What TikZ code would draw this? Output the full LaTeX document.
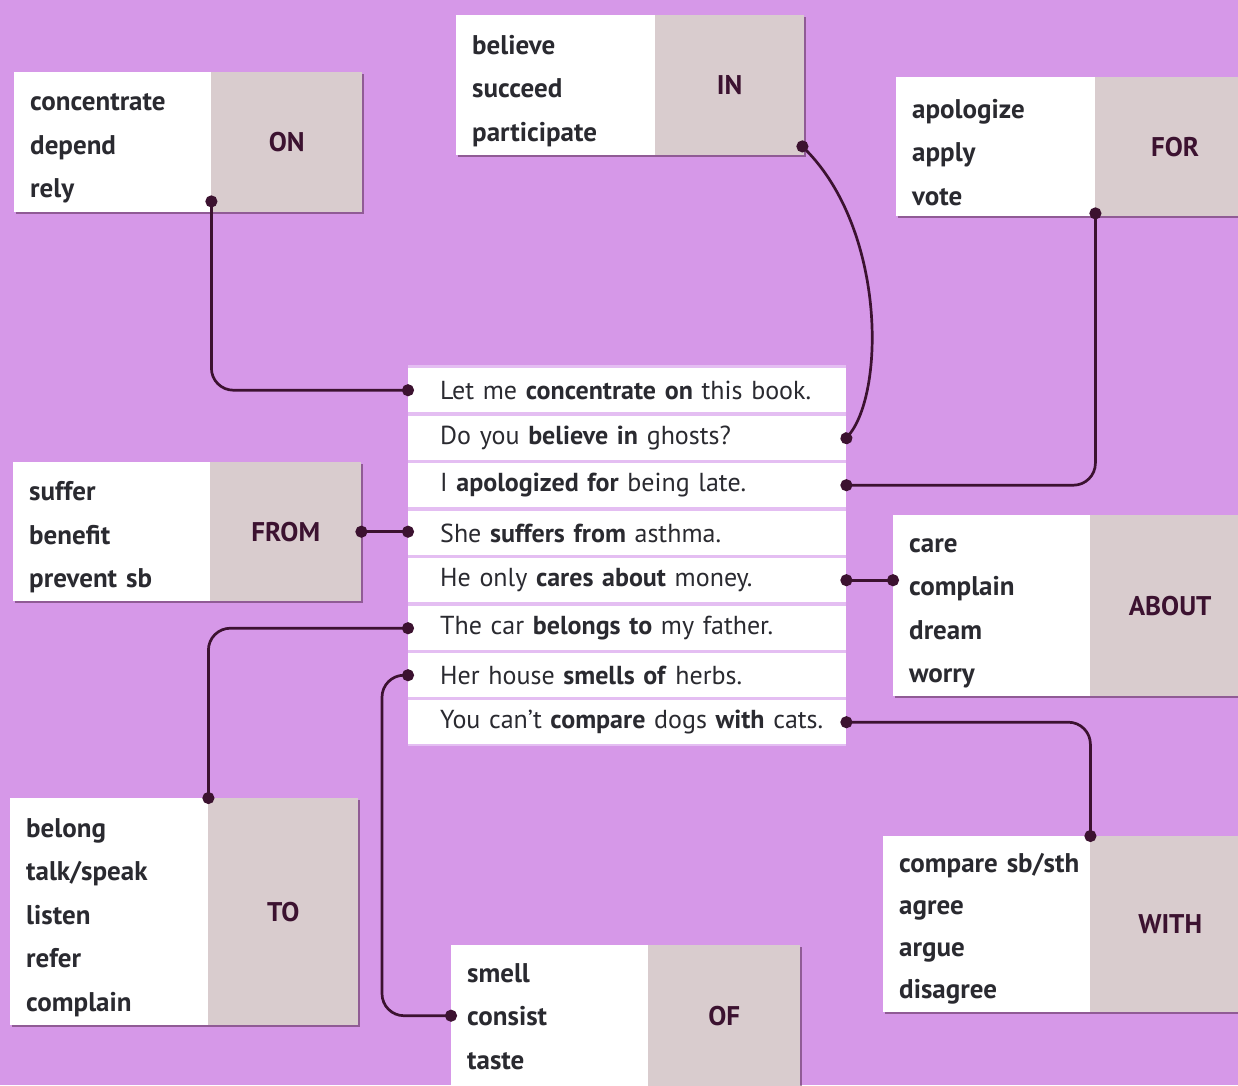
\documentclass[tikz,border=0pt]{standalone}
\usepackage{fontspec}
\setmainfont{PT Sans}
\usetikzlibrary{shadows,calc,arrows.meta}
\definecolor{bg}{RGB}{214,152,232}
\definecolor{tag}{RGB}{217,204,206}
\definecolor{ink}{RGB}{60,18,48}
\definecolor{txt}{RGB}{42,42,48}
\definecolor{sep}{RGB}{228,190,242}
\tikzset{
  x=1pt,y=-1pt,
  shad/.style={drop shadow={shadow xshift=2pt,shadow yshift=-2pt,opacity=0.45,fill=ink}},
  wpart/.style={shad,fill=white,anchor=north west,inner xsep=16pt,inner ysep=0pt,
    align=left,text=txt,font=\fontsize{27}{43.5}\selectfont\bfseries},
  gpart/.style={shad,fill=tag,anchor=north west,inner sep=0pt,text=ink,
    font=\fontsize{27}{32}\selectfont\bfseries},
  sent/.style={fill=white,anchor=north west,inner xsep=0pt,inner ysep=0pt,
    minimum width=438,minimum height=44,text width=438,align=left,text=txt,
    font=\fontsize{26}{31}\selectfont},
  conn/.style={draw=ink,line width=2.7pt,rounded corners=22pt,
    {Circle[length=12pt]}-{Circle[length=12pt]},shorten <=-6pt,shorten >=-6pt},
}
\newcommand{\bw}[1]{\textbf{#1}}
\newcommand{\tp}[1][30]{\rule{0pt}{#1pt}}
\begin{document}
\begin{tikzpicture}
\fill[bg] (0,0) rectangle (1238,1085);
\useasboundingbox (0,0) rectangle (1238,1085);
\clip (0,0) rectangle (1238,1085);

% ON
\node[wpart,minimum width=197,minimum height=140,text width=165] (onw) at (14,72) {\tp[30]concentrate\\depend\\rely};
\node[gpart,minimum width=151,minimum height=140] (ong) at (211,72) {ON};
% IN
\node[wpart,minimum width=199,minimum height=140,text width=167] (inw) at (456,15) {\tp[30]believe\\succeed\\participate};
\node[gpart,minimum width=149,minimum height=140] (ing) at (655,15) {IN};
% FOR
\node[wpart,minimum width=199,minimum height=139,text width=167] (forw) at (896,77) {\tp[30]apologize\\apply\\vote};
\node[gpart,minimum width=160,minimum height=139] (forg) at (1095,77) {FOR};
% FROM
\node[wpart,minimum width=197,minimum height=139,text width=165] (fromw) at (13,462) {\tp[30]suffer\\benefit\\prevent sb};
\node[gpart,minimum width=151,minimum height=139] (fromg) at (210,462) {FROM};
% ABOUT
\node[wpart,minimum width=197,minimum height=181,text width=165] (aboutw) at (893,515) {\tp[29]care\\complain\\dream\\worry};
\node[gpart,minimum width=160,minimum height=181] (aboutg) at (1090,515) {ABOUT};
% TO
\node[wpart,minimum width=198,minimum height=227,text width=166] (tow) at (10,798) {\tp[30]belong\\talk/speak\\listen\\refer\\complain};
\node[gpart,minimum width=150,minimum height=227] (tog) at (208,798) {TO};
% OF
\node[wpart,minimum width=197,minimum height=141,text width=165] (ofw) at (451,945) {\tp[20]smell\\consist\\taste};
\node[gpart,minimum width=152,minimum height=141] (ofg) at (648,945) {OF};
% WITH
\node[wpart,minimum width=207,minimum height=176,text width=175,font=\fontsize{27}{42}\selectfont\bfseries] (withw) at (883,836) {\tp[28]\mbox{compare sb/sth}\\agree\\argue\\disagree};
\node[gpart,minimum width=160,minimum height=176] (withg) at (1090,836) {WITH};

% sentences
\fill[sep] (408,365) rectangle (846,746);
\node[sent] (s1) at (408,368) {\hspace*{32pt}Let me \bw{concentrate on} this book.};
\node[sent] (s2) at (408,416) {\hspace*{32pt}Do you \bw{believe in} ghosts?};
\node[sent] (s3) at (408,463) {\hspace*{32pt}I \bw{apologized for} being late.};
\node[sent] (s4) at (408,511) {\hspace*{32pt}She \bw{suffers from} asthma.};
\node[sent] (s5) at (408,558) {\hspace*{32pt}He only \bw{cares about} money.};
\node[sent] (s6) at (408,606) {\hspace*{32pt}The car \bw{belongs to} my father.};
\node[sent] (s7) at (408,653) {\hspace*{32pt}Her house \bw{smells of} herbs.};
\node[sent] (s8) at (408,700) {\hspace*{32pt}You can’t \bw{compare} dogs \bw{with} cats.};

% connector end points
\coordinate (onp) at ([yshift=11pt]onw.south east);
\coordinate (inp) at ([xshift=-2pt,yshift=9pt]ing.south east);
\coordinate (forp) at ([yshift=3pt]forw.south east);

\draw[conn] (onp) |- (s1.west);
\draw[conn,rounded corners=0pt] (inp) .. controls (885,230) and (885,390) .. (s2.east);
\draw[conn] (forp) |- (s3.east);
\draw[conn] (fromg.east) -- (fromg.east -| s4.west);
\draw[conn] (s5.east) -- (s5.east -| aboutw.west);
\draw[conn] (tow.north east) |- (s6.west);
\draw[conn] (ofw.west) -| ($(s7.west)+(-26,0)$) -- (s7.west);
\draw[conn] (withw.north east) |- (s8.east);
\end{tikzpicture}
\end{document}
